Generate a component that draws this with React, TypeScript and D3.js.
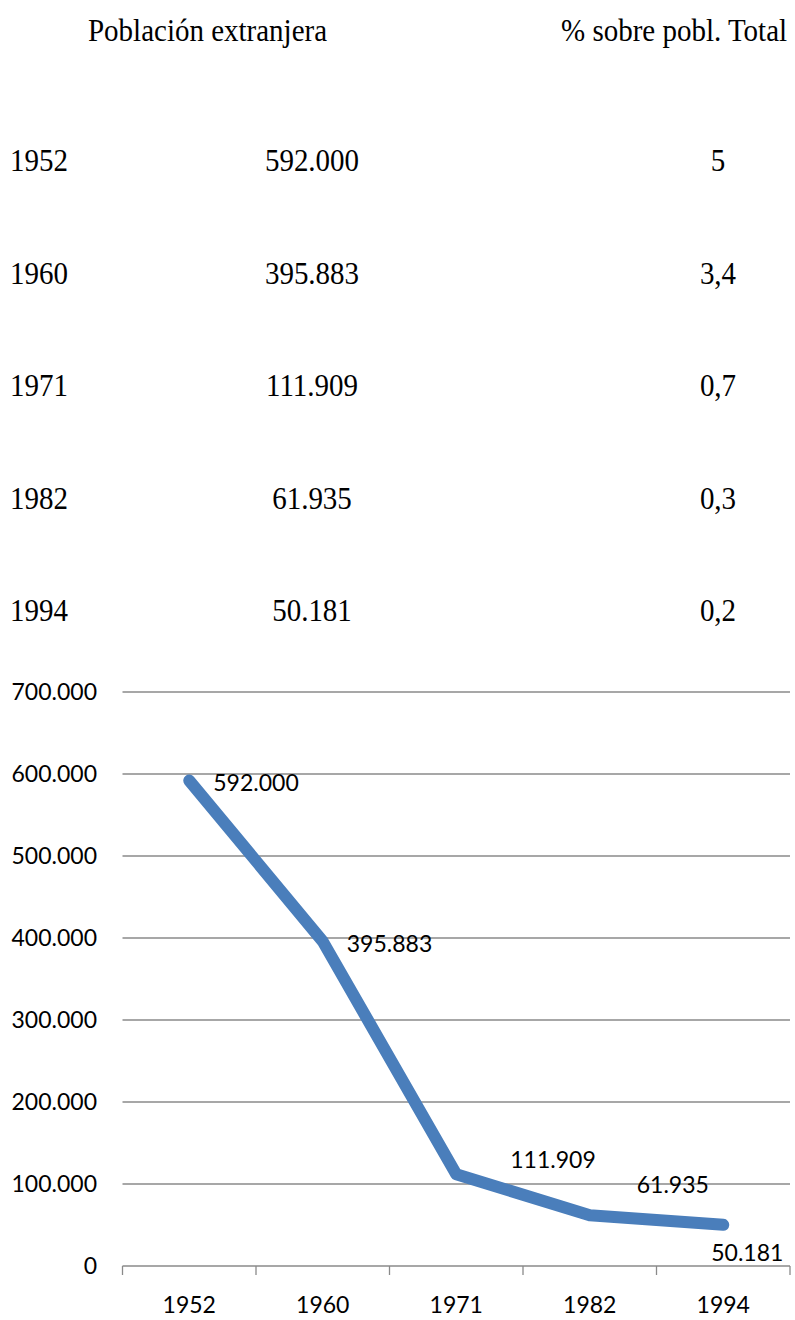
import React from 'react';
import * as d3 from 'd3';

// Census years and foreign-born population
const years = ['1952', '1960', '1971', '1982', '1994'];
const foreignPop = [592000, 395883, 111909, 61935, 50181];
const pctOfTotal = ['5', '3,4', '0,7', '0,3', '0,2'];
const yTickValues = [0, 100000, 200000, 300000, 400000, 500000, 600000, 700000];

const headerLeft = 'Población extranjera';
const headerRight = '% sobre pobl. Total';

// Data label placement around each point: [dx, dy]
const labelOffsets: [number, number][] = [
  [24, 10],
  [24, 11],
  [54, -6],
  [47, -22],
  [-12, 36],
];

const W = 795;
const H = 1320;
const plot = { left: 122.5, right: 790, top: 692, bottom: 1266 };

const serif = '"Liberation Serif", "Times New Roman", serif';
const sans = 'Lato, "Open Sans", sans-serif';

const fmtThousands = (v: number) => d3.format(',')(v).replace(/,/g, '.');

// Serif table text, slightly tall-set
function SerifText({ x, y, anchor = 'start', children }: { x: number; y: number; anchor?: string; children: React.ReactNode }) {
  return (
    <text
      transform={`translate(${x},${y}) scale(1,1.1)`}
      textAnchor={anchor}
      fontFamily={serif}
      fontSize={29}
      fill="#000"
    >
      {children}
    </text>
  );
}

export default function App() {
  const x = d3.scaleBand<string>().domain(years).range([plot.left, plot.right]).padding(0);
  const y = d3.scaleLinear().domain([0, 700000]).range([plot.bottom, plot.top]);
  const cx = (d: string) => (x(d) as number) + x.bandwidth() / 2;

  const line = d3
    .line<number>()
    .x((_, i) => cx(years[i]))
    .y((d) => y(d));

  const rowY = d3.scalePoint<string>().domain(years).range([171, 621]);

  const tickXs = [...years.map((d) => x(d) as number), plot.right];

  return (
    <svg
      width={W}
      height={H}
      style={{ position: 'absolute', left: 0, top: 0, background: '#fff' }}
    >
      {/* Table header */}
      <SerifText x={88} y={41}>{headerLeft}</SerifText>
      <SerifText x={561} y={41}>{headerRight}</SerifText>

      {/* Table rows */}
      {years.map((yr, i) => (
        <g key={yr}>
          <SerifText x={10} y={rowY(yr) as number}>{yr}</SerifText>
          <SerifText x={312} y={rowY(yr) as number} anchor="middle">{fmtThousands(foreignPop[i])}</SerifText>
          <SerifText x={718} y={rowY(yr) as number} anchor="middle">{pctOfTotal[i]}</SerifText>
        </g>
      ))}

      {/* Gridlines */}
      <g stroke="#8a8a8a" strokeWidth={1.3}>
        {yTickValues.filter((v) => v > 0).map((v) => (
          <line key={v} x1={plot.left} x2={plot.right} y1={y(v)} y2={y(v)} />
        ))}
      </g>

      {/* Category axis */}
      <g stroke="#8a8a8a" strokeWidth={1.3}>
        <line x1={plot.left} x2={plot.right} y1={y(0)} y2={y(0)} />
        {tickXs.map((tx, i) => (
          <line key={i} x1={tx} x2={tx} y1={y(0)} y2={y(0) + 9} />
        ))}
      </g>

      {/* Y axis labels */}
      <g fontFamily={sans} fontSize={23} fill="#000" textAnchor="end">
        {yTickValues.map((v) => (
          <text key={v} x={97} y={y(v) + 8}>{fmtThousands(v)}</text>
        ))}
      </g>

      {/* X axis labels */}
      <g fontFamily={sans} fontSize={23} fill="#000" textAnchor="middle">
        {years.map((yr) => (
          <text key={yr} x={cx(yr)} y={1313}>{yr}</text>
        ))}
      </g>

      {/* Series line */}
      <path
        d={line(foreignPop) as string}
        fill="none"
        stroke="#4a7ebb"
        strokeWidth={12}
        strokeLinecap="round"
        strokeLinejoin="round"
      />

      {/* Data labels */}
      <g fontFamily={sans} fontSize={23} fill="#000">
        {foreignPop.map((v, i) => (
          <text
            key={i}
            x={cx(years[i]) + labelOffsets[i][0]}
            y={y(v) + labelOffsets[i][1]}
          >
            {fmtThousands(v)}
          </text>
        ))}
      </g>
    </svg>
  );
}
